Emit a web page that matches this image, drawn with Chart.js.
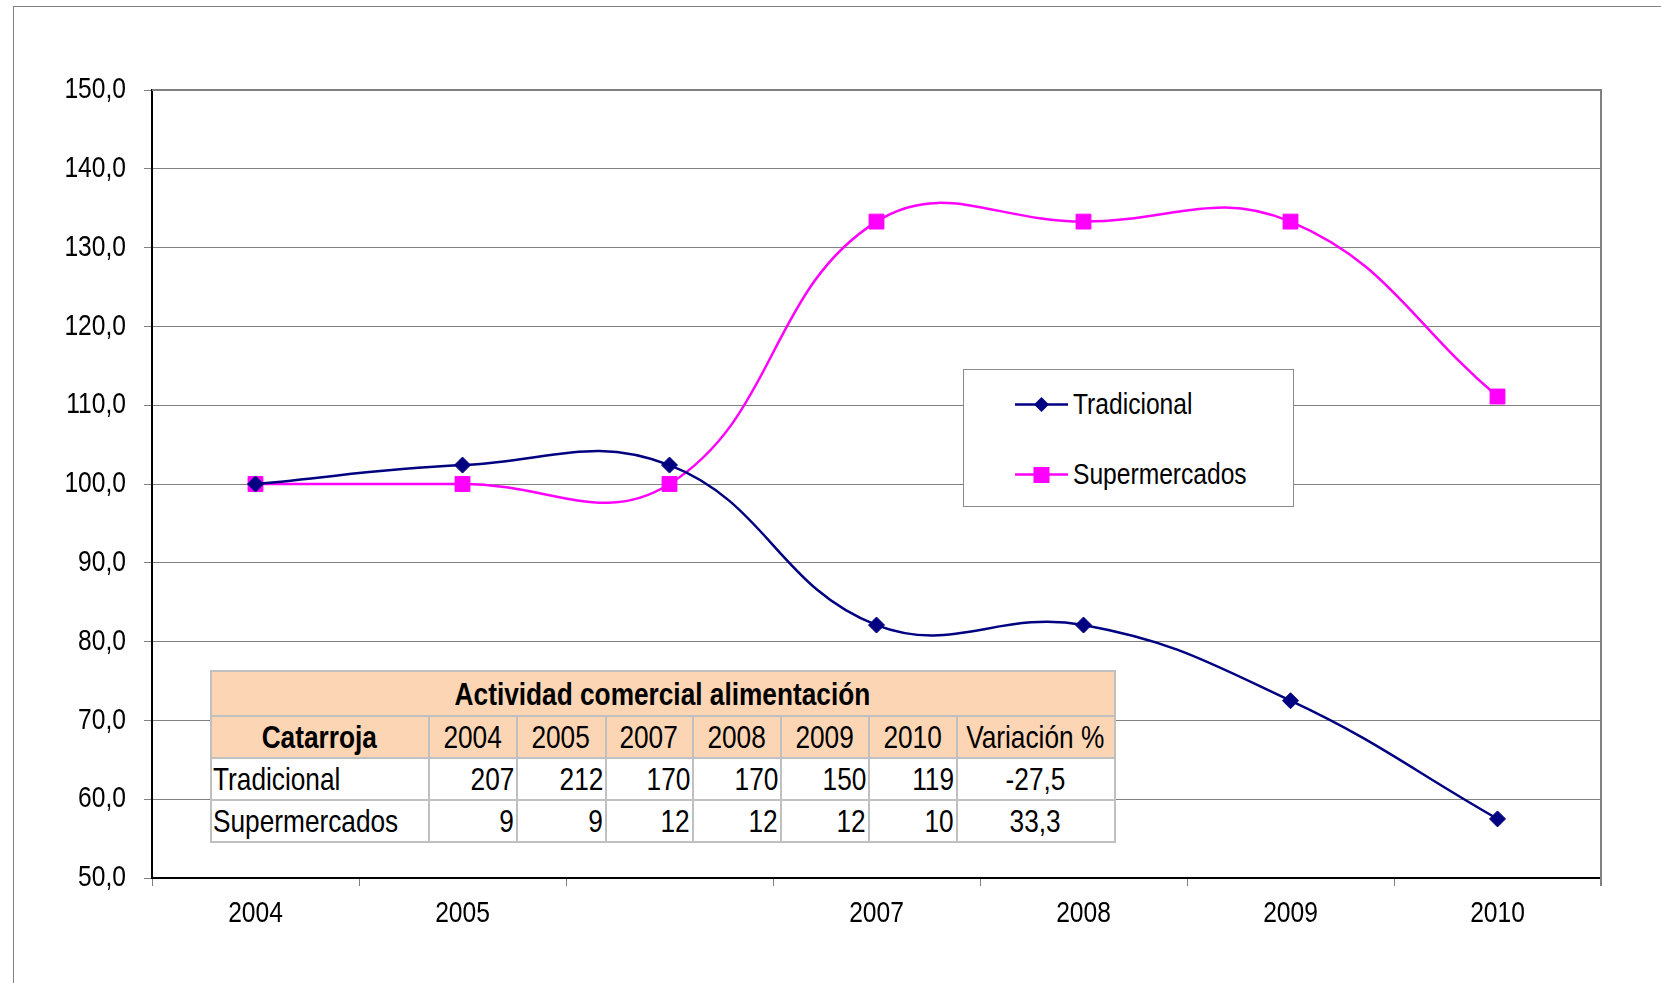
<!DOCTYPE html>
<html>
<head>
<meta charset="utf-8">
<title>Actividad comercial alimentación - Catarroja</title>
<script src="https://cdn.jsdelivr.net/npm/chart.js@4.4.1/dist/chart.umd.min.js"></script>
<style>
  html, body { margin: 0; padding: 0; background: #fff; }
  body { width: 1661px; height: 983px; position: relative; overflow: hidden;
         font-family: 'Liberation Sans Narrow', 'Arial Narrow', 'Liberation Sans', Arial, sans-serif; }
  #frame { position: absolute; left: 13px; top: 6px; right: -10px; bottom: -10px;
           border-left: 1.5px solid #808080; border-top: 1.5px solid #808080; }
  #chart { position: absolute; left: 0; top: 0; }
  #legend { position: absolute; left: 963px; top: 369px; width: 329px; height: 136px;
            border: 1px solid #8a8a8a; background: #fff; }
  .leg-row { position: absolute; left: 51px; height: 36px; display: flex; align-items: center;
             font-size: 30px; color: #000; white-space: nowrap; }
  .leg-row svg { margin-right: 5px; flex: none; }
  #datatable { position: absolute; left: 210px; top: 670px; width: 904px; table-layout: fixed;
               border-collapse: collapse; font-size: 32px; color: #000; background: #fff; }
  #datatable td { border: 2px solid #c0c0c0; padding: 0 2px 0 1px; height: 40px; line-height: 38px;
                  white-space: nowrap; overflow: visible; }
  #datatable .hdr td { background: #fcd5b4; }
  #datatable .title td { text-align: center; font-weight: bold; height: 43px; }
  #datatable .num { text-align: right; }
  #datatable .ctr { text-align: center; }
  #datatable .bold { font-weight: bold; }
  .sx { display: inline-block; }
  .sx.l { transform-origin: left center; margin-right: -80px; }
  .sx.r { transform-origin: right center; margin-left: -80px; }
  .sx.c { transform-origin: center center; margin: 0 -80px; }
</style>
</head>
<body>
<div id="frame"></div>
<canvas id="chart" width="1661" height="983"></canvas>
<div id="legend"></div>
<table id="datatable"></table>

<script>
// Chart data (index, 2004 = 100)
const categories = ['2004', '2005', '', '2007', '2008', '2009', '2010'];
const tradicional = [100.0, 102.4, 102.4, 82.1, 82.1, 72.5, 57.5];
const supermercados = [100.0, 100.0, 100.0, 133.3, 133.3, 133.3, 111.1];
const yTicks = [50, 60, 70, 80, 90, 100, 110, 120, 130, 140, 150];

// Table data
const tableTitle = 'Actividad comercial alimentación';
const tableCorner = 'Catarroja';
const tableYears = ['2004', '2005', '2007', '2008', '2009', '2010'];
const tradCounts = [207, 212, 170, 170, 150, 119];
const superCounts = [9, 9, 12, 12, 12, 10];
const variation = ['-27,5', '33,3'];

const FONT = "'Liberation Sans Narrow', 'Arial Narrow', 'Liberation Sans', Arial, sans-serif";

// If no narrow face is installed, squeeze the regular one horizontally
function narrowScale() {
  const c = document.createElement('canvas').getContext('2d');
  c.font = "30px 'Liberation Sans Narrow', 'Arial Narrow', monospace";
  const a = c.measureText('Tradicional 150,0').width;
  c.font = '30px monospace';
  const b = c.measureText('Tradicional 150,0').width;
  return a !== b ? 1 : 0.82;
}
const TEXT_SCALE = narrowScale();

const seriesList = [
  { label: 'Tradicional', data: tradicional, color: '#000080', style: 'rectRot', radius: 8 },
  { label: 'Supermercados', data: supermercados, color: '#ff00ff', style: 'rect', radius: 10.5 }
];

// Plot frame: grey top and right border
const frameBorder = {
  id: 'frameBorder',
  afterDraw(chart) {
    const { ctx, chartArea } = chart;
    ctx.save();
    ctx.strokeStyle = '#808080';
    ctx.lineWidth = 2;
    ctx.beginPath();
    ctx.moveTo(chartArea.left, chartArea.top);
    ctx.lineTo(chartArea.right, chartArea.top);
    ctx.lineTo(chartArea.right, chartArea.bottom + 8);
    ctx.stroke();
    ctx.restore();
  }
};

const ctx = document.getElementById('chart').getContext('2d');
// condensed tick labels
const rawFill = ctx.fillText.bind(ctx);
ctx.fillText = function (text, x, y) {
  if (TEXT_SCALE === 1) return rawFill(text, x, y);
  ctx.save();
  ctx.translate(x, y);
  ctx.scale(TEXT_SCALE, 1);
  rawFill(text, 0, 0);
  ctx.restore();
};

new Chart(ctx, {
  type: 'line',
  data: {
    labels: categories,
    datasets: seriesList.map(s => ({
      label: s.label,
      data: s.data,
      borderColor: s.color,
      backgroundColor: s.color,
      pointBackgroundColor: s.color,
      pointBorderColor: s.color,
      pointBorderWidth: 1,
      pointStyle: s.style,
      pointRadius: s.radius,
      borderWidth: 2.5,
      tension: 0.42,
      fill: false
    }))
  },
  options: {
    responsive: false,
    animation: false,
    layout: { padding: { left: 0, top: 90, right: 60, bottom: 0 } },
    plugins: {
      legend: { display: false },
      tooltip: { enabled: false }
    },
    scales: {
      x: {
        offset: true,
        grid: { offset: true, drawOnChartArea: false, drawTicks: true, tickLength: 8, color: '#808080' },
        border: { color: '#000', width: 2 },
        ticks: { color: '#000', font: { family: FONT, size: 30 }, padding: 10, maxRotation: 0, autoSkip: false },
        afterFit(scale) { scale.height = 105; }
      },
      y: {
        min: 50,
        max: 150,
        afterBuildTicks(scale) { scale.ticks = yTicks.map(v => ({ value: v })); },
        grid: { color: '#808080', lineWidth: 1, tickLength: 8, tickColor: '#808080' },
        border: { color: '#000', width: 2 },
        ticks: {
          color: '#000',
          font: { family: FONT, size: 30 },
          padding: 18,
          callback: v => v.toFixed(1).replace('.', ',')
        },
        afterFit(scale) { scale.width = 152; }
      }
    }
  },
  plugins: [frameBorder]
});

function sx(text, align) {
  return `<span class="sx ${align}" style="transform:scaleX(${TEXT_SCALE})">${text}</span>`;
}

// Legend box
const legend = document.getElementById('legend');
seriesList.forEach((s, i) => {
  const row = document.createElement('div');
  row.className = 'leg-row';
  row.style.top = (i === 0 ? 16 : 86) + 'px';
  const marker = s.style === 'rect'
    ? `<rect x="18.5" y="11" width="16" height="16" fill="${s.color}"/>`
    : `<polygon points="26.5,11 34,18.5 26.5,26 19,18.5" fill="${s.color}"/>`;
  row.innerHTML = `<svg width="53" height="37"><line x1="0" y1="18.5" x2="53" y2="18.5" stroke="${s.color}" stroke-width="2.5"/>${marker}</svg>` + sx(s.label, 'l');
  legend.appendChild(row);
});

// Data table
const colWidths = [218, 88, 89, 87, 88, 88, 88, 158];
const table = document.getElementById('datatable');
let html = '<colgroup>' + colWidths.map(w => `<col style="width:${w}px">`).join('') + '</colgroup>';
html += `<tr class="hdr title"><td colspan="8">${sx(tableTitle, 'c')}</td></tr>`;
html += `<tr class="hdr"><td class="ctr bold">${sx(tableCorner, 'c')}</td>` +
  tableYears.map(y => `<td class="ctr">${sx(y, 'c')}</td>`).join('') +
  `<td class="ctr">${sx('Variación %', 'c')}</td></tr>`;
html += `<tr><td>${sx('Tradicional', 'l')}</td>` + tradCounts.map(v => `<td class="num">${sx(v, 'r')}</td>`).join('') +
  `<td class="ctr">${sx(variation[0], 'c')}</td></tr>`;
html += `<tr><td>${sx('Supermercados', 'l')}</td>` + superCounts.map(v => `<td class="num">${sx(v, 'r')}</td>`).join('') +
  `<td class="ctr">${sx(variation[1], 'c')}</td></tr>`;
table.innerHTML = html;
</script>
</body>
</html>
